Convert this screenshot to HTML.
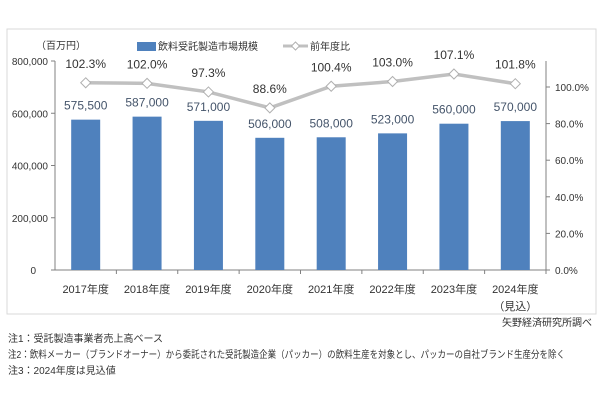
<!DOCTYPE html>
<html><head><meta charset="utf-8">
<style>
body{margin:0;background:#fff;}
svg{display:block;font-family:"Liberation Sans","Noto Sans CJK JP",sans-serif;}
</style></head>
<body>
<svg id="chart" width="600" height="400" viewBox="0 0 600 400">
<rect x="7" y="29" width="589" height="285" fill="#fff" stroke="#d9d9d9"/>
<text x="36" y="49" font-size="10" fill="#333">（百万円）</text>
<g>
<rect x="137" y="42" width="19" height="9" fill="#4f81bd"/>
<text x="158" y="50" font-size="10" fill="#333">飲料受託製造市場規模</text>
<line x1="283" y1="46" x2="308" y2="46" stroke="#c0c0c0" stroke-width="3"/>
<path d="M295.5 42 L299.5 46 L295.5 50 L291.5 46 Z" fill="#fff" stroke="#b0b0b0"/>
<text x="310" y="50" font-size="10" fill="#333">前年度比</text>
</g>
<g id="axes"></g>
<g id="bars"></g>
<g id="line"></g>
<text x="592" y="326" font-size="10" fill="#333" text-anchor="end">矢野経済研究所調べ</text>
<text x="8" y="342" font-size="10" fill="#333">注1：受託製造事業者売上高ベース</text>
<text x="8" y="358" font-size="10" fill="#333" textLength="557" lengthAdjust="spacingAndGlyphs">注2：飲料メーカー（ブランドオーナー）から委託された受託製造企業（パッカー）の飲料生産を対象とし、パッカーの自社ブランド生産分を除く</text>
<text x="8" y="374" font-size="10" fill="#333">注3：2024年度は見込値</text>
</svg>
<script>
const categories=["2017年度","2018年度","2019年度","2020年度","2021年度","2022年度","2023年度","2024年度"];
const marketValues=[575500,587000,571000,506000,508000,523000,560000,570000];
const yoyValues=[102.3,102.0,97.3,88.6,100.4,103.0,107.1,101.8];
const leftTicks=[0,200000,400000,600000,800000];
const rightTicks=[0,20,40,60,80,100];

const NS="http://www.w3.org/2000/svg";
const X0=55,X1=546,Y0=270,Y1=61;
const slot=(X1-X0)/categories.length;
const xC=i=>X0+slot*(i+0.5);
const yL=v=>Y0-(v/800000)*(Y0-Y1);
const yR=v=>Y0-(v/100)*(Y0-87);
function mk(tag,attrs,parent,txt){const e=document.createElementNS(NS,tag);for(const k in attrs)e.setAttribute(k,attrs[k]);if(txt!==undefined)e.textContent=txt;parent.appendChild(e);return e;}
const axes=document.getElementById('axes'),bars=document.getElementById('bars'),line=document.getElementById('line');
let e;
e=mk('line',{x1:X0,y1:Y1,x2:X0,y2:Y0,stroke:'#808080'},axes);


e=mk('line',{x1:X1,y1:Y1,x2:X1,y2:Y0,stroke:'#808080'},axes);


e=mk('line',{x1:X0,y1:Y0,x2:X1,y2:Y0,stroke:'#808080'},axes);


leftTicks.forEach(v=>{
 mk('line',{x1:X0-4,y1:yL(v),x2:X0,y2:yL(v),stroke:'#808080'},axes);
 e=mk('text',{x:X0-7+(v===0?-12:0),y:yL(v)+4,'font-size':10,fill:'#333','text-anchor':'end'},axes,v.toLocaleString('en-US'));
 
 
});
rightTicks.forEach(v=>{
 mk('line',{x1:X1,y1:yR(v),x2:X1+4,y2:yR(v),stroke:'#808080'},axes);
 e=mk('text',{x:X1+9,y:yR(v)+4,'font-size':10,fill:'#333'},axes,v.toFixed(1)+'%');
 
 
});
categories.forEach((c,i)=>{
 mk('line',{x1:X0+slot*(i+1),y1:Y0,x2:X0+slot*(i+1),y2:Y0+4,stroke:'#808080'},axes);
 e=mk('text',{x:xC(i),y:293,'font-size':11,fill:'#333','text-anchor':'middle'},axes,c);
 
 
});
e=mk('text',{x:xC(7),y:310,'font-size':11,fill:'#333','text-anchor':'middle'},axes,'（見込）');


marketValues.forEach((v,i)=>{
 e=mk('rect',{x:xC(i)-14.5,y:yL(v),width:29,height:Y0-yL(v),fill:'#4f81bd'},bars);
 
 
 e=mk('text',{x:xC(i),y:yL(v)-10,'font-size':12,fill:'#44546a','text-anchor':'middle'},bars,v.toLocaleString('en-US'));
 
 
});
e=mk('polyline',{points:yoyValues.map((v,i)=>xC(i)+','+yR(v)).join(' '),fill:'none',stroke:'#c0c0c0','stroke-width':3.5},line);


yoyValues.forEach((v,i)=>{
 const x=xC(i),y=yR(v);
 e=mk('path',{d:`M${x} ${y-5}L${x+5} ${y}L${x} ${y+5}L${x-5} ${y}Z`,fill:'#fff',stroke:'#b0b0b0'},line);
 
 
 e=mk('text',{x:x,y:y-15,'font-size':12,fill:'#333','text-anchor':'middle'},line,v.toFixed(1)+'%');
 
 
});
</script>
</body></html>
